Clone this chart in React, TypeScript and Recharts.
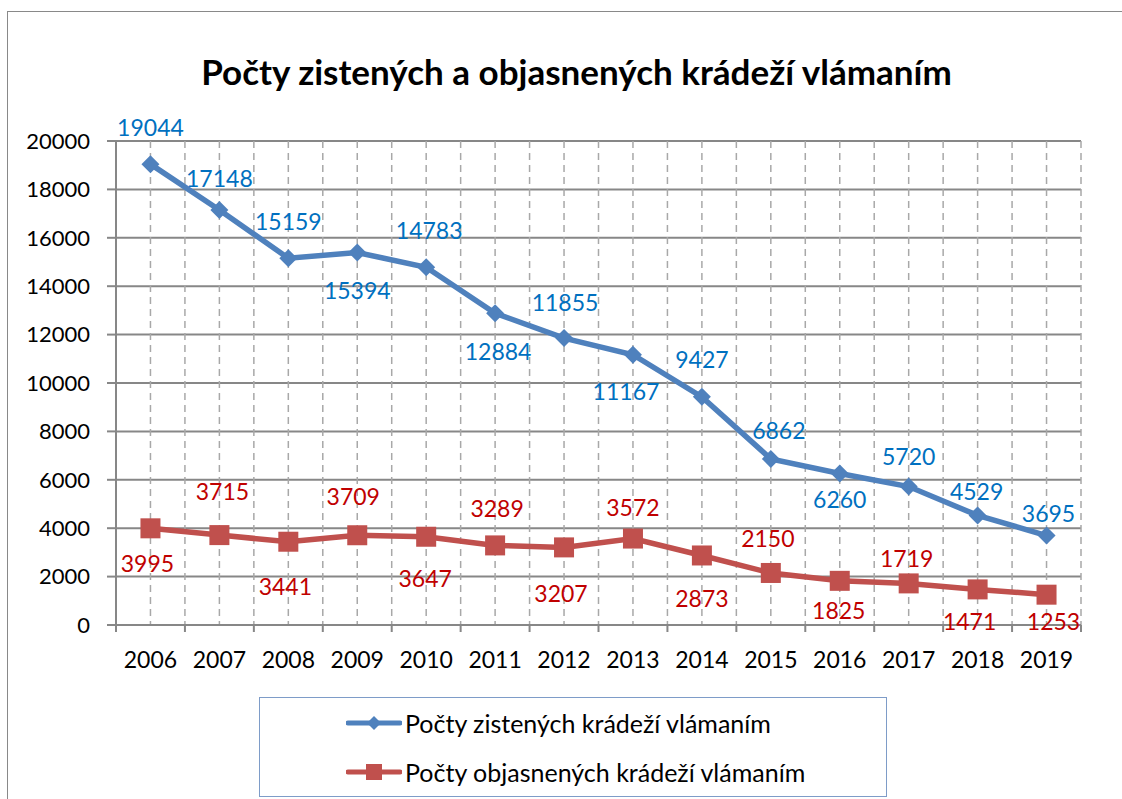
import React from 'react';
import { LineChart, Line, XAxis, YAxis, CartesianGrid, Legend, LabelList } from 'recharts';

const years = ['2006', '2007', '2008', '2009', '2010', '2011', '2012', '2013', '2014', '2015', '2016', '2017', '2018', '2019'];
const zistene = [19044, 17148, 15159, 15394, 14783, 12884, 11855, 11167, 9427, 6862, 6260, 5720, 4529, 3695];
const objasnene = [3995, 3715, 3441, 3709, 3647, 3289, 3207, 3572, 2873, 2150, 1825, 1719, 1471, 1253];
const yTicks = [0, 2000, 4000, 6000, 8000, 10000, 12000, 14000, 16000, 18000, 20000];

const title = 'Počty zistených a objasnených krádeží vlámaním';
const nameZist = 'Počty zistených krádeží vlámaním';
const nameObj = 'Počty objasnených krádeží vlámaním';

// where each data label sits relative to its point (dx, dy)
const zistLabelPos: [number, number][] = [
  [0, -36], [0, -31], [0, -36], [0, 39], [3, -36], [3, 39], [1, -35],
  [-7, 37], [0, -37], [8, -28], [0, 26], [0, -30], [-1, -23], [2, -22],
];
const objLabelPos: [number, number][] = [
  [-3, 36], [3, -43], [-3, 45], [-4, -38], [-1, 42], [2, -36], [-3, 47],
  [0, -31], [0, 44], [-3, -34], [-1, 30], [-2, -24], [-8, 33], [7, 27],
];

const data = years.map((year, i) => ({ year, zistene: zistene[i], objasnene: objasnene[i] }));

const FONT = 'Lato, "Open Sans", sans-serif';
const GRID = '#878787';
const BLUE = '#4F81BD';
const RED = '#C0504D';

const makeLabel = (pos: [number, number][], color: string) => (props: any) => {
  const { x, y, value, index } = props;
  const [dx, dy] = pos[index] ?? [0, -30];
  return (
    <text x={x + dx} y={y + dy + 8} textAnchor="middle" fill={color} fontSize={23} fontFamily={FONT}>
      {value}
    </text>
  );
};

const Diamond = (props: any) => {
  const { cx, cy, index } = props;
  if (cx == null || cy == null) return null;
  const r = 9;
  return <path key={`d-${index}`} d={`M${cx},${cy - r}L${cx + r},${cy}L${cx},${cy + r}L${cx - r},${cy}Z`} fill={BLUE} />;
};

const Square = (props: any) => {
  const { cx, cy, index } = props;
  if (cx == null || cy == null) return null;
  return <rect key={`s-${index}`} x={cx - 10} y={cy - 10} width={20} height={20} fill={RED} />;
};

const XTick = (props: any) => {
  const { x, y, payload, index } = props;
  const half = payload?.offset || 965 / 28;
  return (
    <g>
      <line x1={x - half} x2={x - half} y1={y} y2={y + 7} stroke={GRID} strokeWidth={2} />
      {index === years.length - 1 && <line x1={x + half} x2={x + half} y1={y} y2={y + 7} stroke={GRID} strokeWidth={2} />}
      <text x={x} y={y + 43} textAnchor="middle" fontSize={23} fontFamily={FONT} fill="#000">
        {payload.value}
      </text>
    </g>
  );
};

const LegendIcon = ({ color, shape }: { color: string; shape: 'diamond' | 'square' }) => (
  <svg width={56} height={20} style={{ position: 'absolute', left: 0, top: 0 }}>
    <line x1={2} x2={54} y1={10} y2={10} stroke={color} strokeWidth={5} strokeLinecap="round" />
    {shape === 'diamond' ? (
      <path d="M28,3L35,10L28,17L21,10Z" fill={color} />
    ) : (
      <rect x={20} y={2} width={16} height={16} fill={color} />
    )}
  </svg>
);

const LegendBox = () => {
  const rows: [string, string, 'diamond' | 'square', number][] = [
    [nameZist, BLUE, 'diamond', 25],
    [nameObj, RED, 'square', 74],
  ];
  return (
    <div style={{ position: 'relative', width: 628, height: 100, boxSizing: 'border-box', border: '1.5px solid #7E9CC8', background: '#fff' }}>
      {rows.map(([name, color, shape, cy]) => (
        <div key={name} style={{ position: 'absolute', left: 86, top: cy - 10, height: 20 }}>
          <LegendIcon color={color} shape={shape} />
          <div style={{ position: 'absolute', left: 59, top: -5, fontFamily: FONT, fontSize: 25, lineHeight: '30px', color: '#000', whiteSpace: 'nowrap' }}>
            {name}
          </div>
        </div>
      ))}
    </div>
  );
};

export default function App() {
  return (
    <div style={{ position: 'fixed', left: 0, top: 0, width: 1122, height: 799, overflow: 'hidden', background: '#fff' }}>
      <div style={{ position: 'absolute', left: 7, top: 11, width: 1300, height: 1000, border: '1px solid #898989' }} />
      <div
        style={{
          position: 'absolute', left: 0, top: 50, width: 1153, textAlign: 'center',
          fontFamily: FONT, fontWeight: 700, fontSize: 35, lineHeight: 1.2, color: '#000',
        }}
      >
        {title}
      </div>
      <div style={{ position: 'absolute', left: 0, top: 0 }}>
        <LineChart width={1122} height={799} data={data} margin={{ top: 141, right: 41, left: 26, bottom: 134 }}>
          <CartesianGrid
            horizontal={(p: any) => (
              <line key={`h-${p.index}`} x1={p.x1} y1={p.y1} x2={p.x2} y2={p.y2} stroke={GRID} strokeWidth={2} />
            )}
            vertical={(p: any) => (
              <line key={`v-${p.index}`} x1={p.x1} y1={p.y1} x2={p.x2} y2={p.y2} stroke="#A8A8A8" strokeWidth={1.5} strokeDasharray="7 5" />
            )}
            verticalCoordinatesGenerator={({ offset }: any) =>
              Array.from({ length: 28 }, (_, i) => offset.left + ((i + 1) * offset.width) / 28)
            }
          />
          <XAxis
            dataKey="year"
            scale="band"
            interval={0}
            height={40}
            tickSize={0}
            tickMargin={0}
            tickLine={false}
            axisLine={{ stroke: GRID, strokeWidth: 2 }}
            tick={<XTick />}
          />
          <YAxis
            width={90}
            domain={[0, 20000]}
            ticks={yTicks}
            interval={0}
            tickSize={9}
            tickMargin={17}
            tickLine={{ stroke: GRID, strokeWidth: 2 }}
            axisLine={{ stroke: GRID, strokeWidth: 2 }}
            tick={{ fontSize: 22, fontFamily: FONT, fill: '#000' }}
          />
          <Legend
            layout="vertical"
            align="center"
            verticalAlign="middle"
            wrapperStyle={{ left: 259, top: 697, width: 628, height: 100 }}
            content={() => <LegendBox />}
          />
          <Line
            type="linear"
            dataKey="objasnene"
            name={nameObj}
            stroke={RED}
            strokeWidth={5.5}
            dot={<Square />}
            activeDot={false}
            isAnimationActive={false}
          >
            <LabelList dataKey="objasnene" content={makeLabel(objLabelPos, '#C00000')} />
          </Line>
          <Line
            type="linear"
            dataKey="zistene"
            name={nameZist}
            stroke={BLUE}
            strokeWidth={5.5}
            dot={<Diamond />}
            activeDot={false}
            isAnimationActive={false}
          >
            <LabelList dataKey="zistene" content={makeLabel(zistLabelPos, '#0070C0')} />
          </Line>
        </LineChart>
      </div>
    </div>
  );
}
